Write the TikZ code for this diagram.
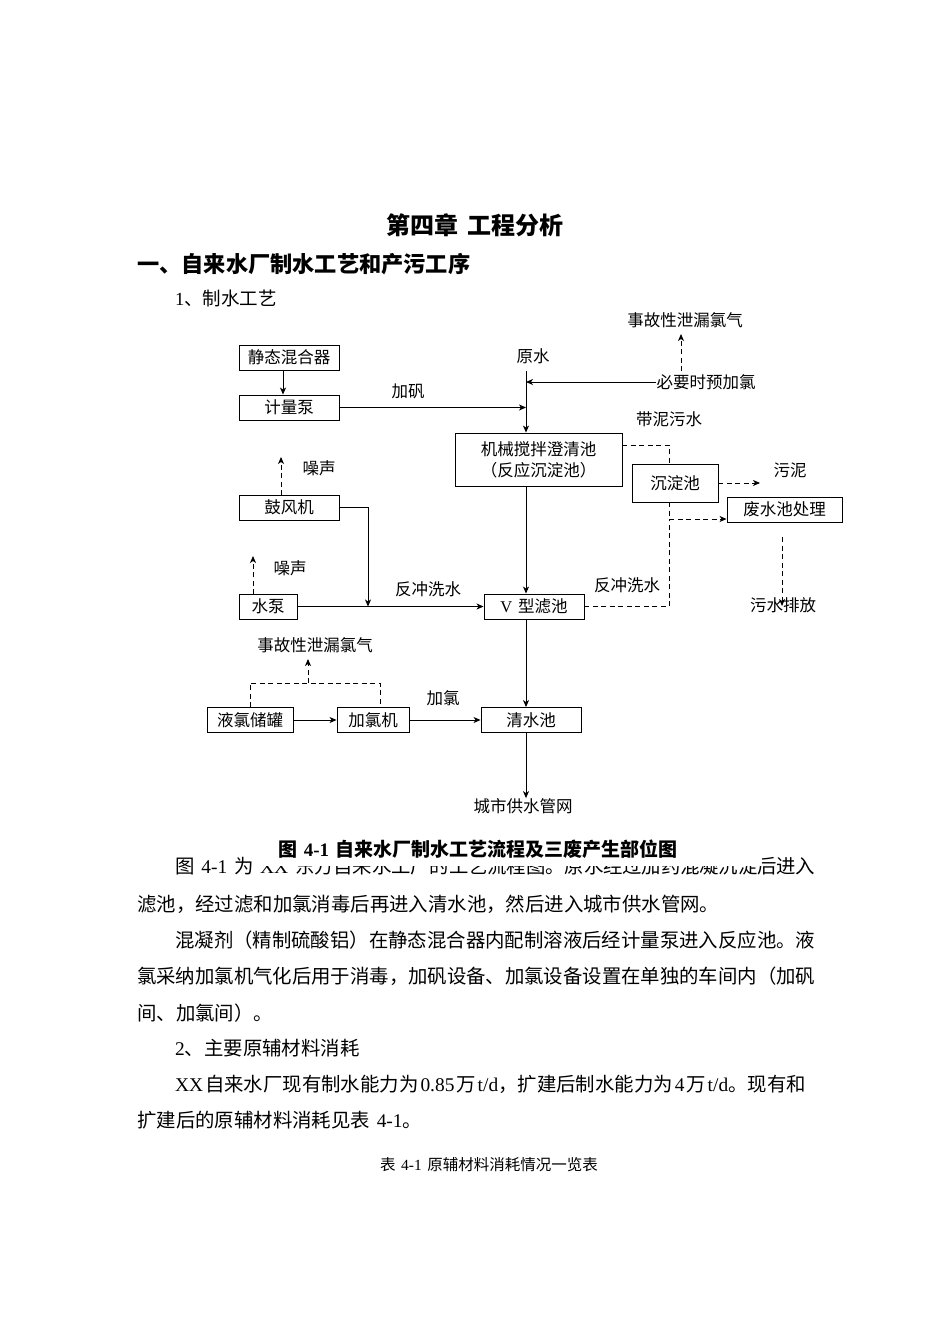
\documentclass[tikz,border=0pt]{standalone}
\usepackage{fontspec}
\setmainfont{Noto Sans CJK SC}
\newfontfamily\lat{Liberation Serif}
\usetikzlibrary{arrows.meta,calc}
\newcommand{\fsz}[1]{\fontsize{#1}{#1}\selectfont}
\newcommand{\gap}{\hspace{0.35em}}
\newcommand{\sgap}{\hspace{0.1em}}
\newcommand{\jline}[2]{\parbox{#1}{\XeTeXlinebreaklocale "zh"\XeTeXlinebreakskip=0pt plus 3pt minus 1pt\relax\parfillskip=0pt\relax\noindent #2}}
\tikzset{
  box/.style={draw, line width=0.9pt, inner sep=0pt, font=\fontsize{16.5}{21}\selectfont, align=center},
  arr/.style={-{Stealth[length=7pt,width=6pt,inset=2pt]}, line width=0.9pt},
  darr/.style={arr, dash pattern=on 5pt off 3.5pt},
  dline/.style={line width=0.9pt, dash pattern=on 5pt off 3.5pt},
  lbl/.style={inner sep=0pt, font=\fsz{16.5}},
  body/.style={inner sep=0pt, anchor=west, font=\fsz{19.4}}
}
\begin{document}
\begin{tikzpicture}[x=1pt,y=-1pt]
\fill[white] (0,0) rectangle (950,1344);
\useasboundingbox (0,0) rectangle (950,1344);

% headings
\node[inner sep=0pt, font=\fsz{24}\bfseries] (title) at (475,225) {第四章\gap 工程分析};
\node[inner sep=0pt, anchor=west, font=\fsz{22.2}\bfseries] (h1) at (137,264) {一、自来水厂制水工艺和产污工序};
\node[inner sep=0pt, anchor=west, font=\fsz{18.5}] (h2) at (175,298) {{\lat 1}、制水工艺};

% boxes
\node[box, minimum width=100pt, minimum height=25pt] (mix) at (289,357.5) {静态混合器};
\node[box, minimum width=100pt, minimum height=25pt] (pump) at (289,407.5) {计量泵};
\node[box, minimum width=167pt, minimum height=53pt] (clar) at (538.5,459.5) {机械搅拌澄清池\\（反应沉淀池）};
\node[box, minimum width=86pt, minimum height=38pt] (sed) at (675,483) {沉淀池};
\node[box, minimum width=115pt, minimum height=25pt] (waste) at (784.5,509.5) {废水池处理};
\node[box, minimum width=100pt, minimum height=25pt] (blow) at (289,507.5) {鼓风机};
\node[box, minimum width=58pt, minimum height=25pt] (wpump) at (268,606.5) {水泵};
\node[box, minimum width=100pt, minimum height=25pt] (vf) at (534,606.5) {{\lat V}\gap 型滤池};
\node[box, minimum width=100pt, minimum height=25pt] (clean) at (531,720) {清水池};
\node[box, minimum width=86pt, minimum height=25pt] (tank) at (250,720) {液氯储罐};
\node[box, minimum width=72pt, minimum height=25pt] (chl) at (373,720) {加氯机};

% labels
\node[lbl] (raw) at (533,356) {原水};
\node[lbl] (alum) at (408,391) {加矾};
\node[lbl] (pre) at (706,382) {必要时预加氯};
\node[lbl] (leak1) at (685,320) {事故性泄漏氯气};
\node[lbl] (mud) at (669,419) {带泥污水};
\node[lbl] (sludge) at (790,470) {污泥};
\node[lbl] (drain) at (783,605) {污水排放};
\node[lbl] (noise1) at (319,468) {噪声};
\node[lbl] (noise2) at (290,568) {噪声};
\node[lbl] (bw1) at (428,589) {反冲洗水};
\node[lbl] (bw2) at (627,585) {反冲洗水};
\node[lbl] (cl) at (443,698) {加氯};
\node[lbl] (city) at (523,806) {城市供水管网};
\node[lbl] (leak2) at (315,645) {事故性泄漏氯气};

% coordinates
\coordinate (rawtop) at (526,371);
\coordinate (j1) at (526,407.5);
\coordinate (j2) at (526,382);
\coordinate (j3) at (368,606.5);
\coordinate (wj) at (669,519);
\coordinate (sl) at (760,483);
\coordinate (dtop) at (782,537);
\coordinate (dend) at (782,606);
\coordinate (n1a) at (281,495);
\coordinate (n1b) at (281,457);
\coordinate (n2a) at (253,594);
\coordinate (n2b) at (253,556);
\coordinate (lk) at (308,683);
\coordinate (lkend) at (308,659);
\coordinate (pretop) at (681,371);
\coordinate (preend) at (681,334);

% connectors
\draw[arr] ([xshift=-6pt]mix.south) -- ([xshift=-6pt]pump.north);
\draw[arr] (rawtop) -- (rawtop |- clar.north);
\draw[arr] (pump.east) -- (j1);
\draw[arr] (pre.west) -- (j2);
\draw[darr] (pretop) -- (preend);
\draw[dline] ([yshift=14.5pt]clar.east) -| ([xshift=-6pt]sed.north);
\draw[darr] (sed.east) -- (sl);
\draw[dline] ([xshift=-6pt]sed.south) -- (wj);
\draw[dline] (vf.east) -| (wj);
\draw[darr] (wj) -- (wj -| waste.west);
\draw[darr] (dtop) -- (dend);
\draw[arr] (rawtop |- clar.south) -- (rawtop |- vf.north);
\draw[arr] (rawtop |- vf.south) -- (rawtop |- clean.north);
\draw[arr] (rawtop |- clean.south) -- (rawtop |- city.north);
\draw[arr] (blow.east) -| (j3);
\draw[arr] (wpump.east) -- (vf.west);
\draw[darr] (n1a) -- (n1b);
\draw[darr] (n2a) -- (n2b);
\draw[arr] (tank.east) -- (chl.west);
\draw[arr] (chl.east) -- (clean.west);
\draw[dline] (tank.north) |- (lk) -| ([xshift=7pt]chl.north);
\draw[darr] (lk) -- (lkend);

% body text
\node[body] (b1) at (175,866) {\jline{640pt}{图\gap{\lat 4-1}\gap 为\gap{\lat XX}\gap 东方自来水工厂的工艺流程图。原水经过加药混凝沉淀后进入}};
\fill[white] (252,833) rectangle (762,866);
\node[inner sep=0pt, font=\fsz{19}\bfseries] (cap) at (478,849) {图\gap{\lat 4-1}\gap 自来水厂制水工艺流程及三废产生部位图};
\node[body] (b2) at (137,904) {滤池，经过滤和加氯消毒后再进入清水池，然后进入城市供水管网。};
\node[body] (b3) at (175,940) {\jline{640pt}{混凝剂（精制硫酸铝）在静态混合器内配制溶液后经计量泵进入反应池。液}};
\node[body] (b4) at (137,976) {\jline{678pt}{氯采纳加氯机气化后用于消毒，加矾设备、加氯设备设置在单独的车间内（加矾}};
\node[body] (b5) at (137,1013) {间、加氯间）。};
\node[body] (b6) at (175,1048) {{\lat 2}、主要原辅材料消耗};
\node[body] (b7) at (175,1084) {{\lat XX}\sgap 自来水厂现有制水能力为\sgap{\lat 0.85}\sgap 万\sgap{\lat t/d}，扩建后制水能力为\sgap{\lat 4}\sgap 万\sgap{\lat t/d}。现有和};
\node[body] (b8) at (137,1120) {扩建后的原辅材料消耗见表\gap{\lat 4-1}。};
\node[inner sep=0pt, font=\fsz{15.5}] (tab) at (489,1165) {表\gap{\lat 4-1}\gap 原辅材料消耗情况一览表};
\end{tikzpicture}
\end{document}
